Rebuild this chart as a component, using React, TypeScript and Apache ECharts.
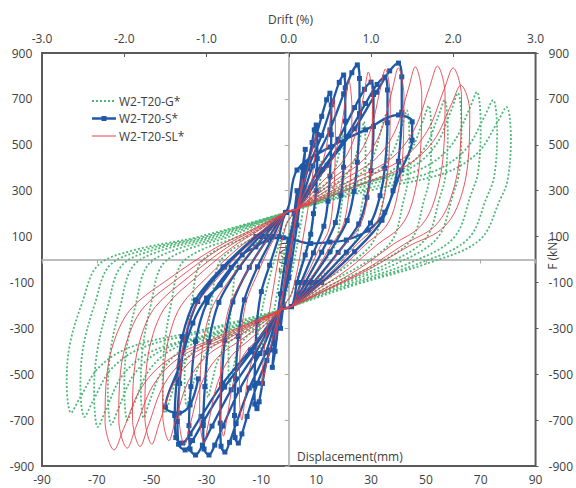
import React, { useEffect, useRef } from "react";
import * as echarts from "echarts";

// Axis ranges / ticks
const dispAxis = { min: -90, max: 90, step: 20 };
const driftAxis = { min: -3, max: 3, step: 1 };
const forceAxis = { min: -900, max: 900, step: 200 };

const seriesNames = ["W2-T20-G*", "W2-T20-S*", "W2-T20-SL*"];

// W2-T20-G* : [displacement (mm), force (kN)], traced loop by loop
const greenCurve: number[][] = [
  [0, 0], [3, 220], [6, 300], [5, 200], [1, -60], [-3, -220], [-6, -300], [-5, -200], [-1, 60],
  [3, 220], [8, 330], [12, 430], [11, 300], [7, 80], [1, -150], [-3, -220], [-8, -330], [-12, -440], [-11, -300], [-7, -80], [-1, 150],
  [3, 220], [8, 286], [14, 336], [17, 402], [19, 501], [19.6, 550], [20, 440], [19.7, 286], [19, 215], [17.2, 72], [12.6, -15], [6, -110], [1, -205],
  [-3, -220], [-8.8, -286], [-15.4, -336], [-18.7, -402], [-20.7, -501], [-21.6, -550], [-22, -440], [-21.7, -303], [-20.5, -154], [-18.9, -22], [-15.4, 40], [-8.8, 100], [-1, 205],
  [3, 220], [11.2, 296], [19.6, 353], [23.8, 429], [26.3, 543], [27.4, 600], [28, 480], [27.6, 312], [26.6, 234], [24.1, 78], [17.6, -15], [8.4, -110], [1, -205],
  [-3, -220], [-12, -296], [-21, -353], [-25.5, -429], [-28.2, -543], [-29.4, -600], [-30, -480], [-29.6, -330], [-27.9, -168], [-25.8, -24], [-21, 40], [-12, 100], [-1, 205],
  [3, 220], [14.4, 302], [25.2, 364], [30.6, 446], [33.8, 569], [35.3, 630], [36, 504], [35.5, 328], [34.2, 246], [31, 82], [22.7, -15], [10.8, -110], [1, -205],
  [-3, -220], [-15.2, -304], [-26.6, -367], [-32.3, -451], [-35.7, -577], [-37.2, -640], [-38, -512], [-37.4, -352], [-35.3, -179], [-32.7, -26], [-26.6, 40], [-15.2, 100], [-1, 205],
  [3, 220], [17.6, 306], [30.8, 371], [37.4, 457], [41.4, 586], [43.1, 650], [44, 520], [43.3, 338], [41.8, 254], [37.8, 85], [27.7, -15], [13.2, -110], [1, -205],
  [-3, -220], [-18.4, -310], [-32.2, -378], [-39.1, -468], [-43.2, -603], [-45.1, -670], [-46, -536], [-45.3, -369], [-42.8, -188], [-39.6, -27], [-32.2, 40], [-18.4, 100], [-1, 205],
  [3, 220], [20.8, 310], [36.4, 378], [44.2, 468], [48.9, 603], [51, 670], [52, 536], [51.2, 348], [49.4, 261], [44.7, 87], [32.8, -15], [15.6, -110], [1, -205],
  [-3, -220], [-21.6, -314], [-37.8, -385], [-45.9, -479], [-50.8, -620], [-52.9, -690], [-54, -552], [-53.2, -380], [-50.2, -193], [-46.4, -28], [-37.8, 40], [-21.6, 100], [-1, 205],
  [3, 220], [23.2, 315], [40.6, 386], [49.3, 481], [54.5, 624], [56.8, 695], [58, 556], [57.1, 361], [55.1, 271], [49.9, 90], [36.5, -15], [17.4, -110], [1, -205],
  [-3, -220], [-24, -316], [-42, -388], [-51, -484], [-56.4, -628], [-58.8, -700], [-60, -560], [-59.1, -385], [-55.8, -196], [-51.6, -28], [-42, 40], [-24, 100], [-1, 205],
  [3, 220], [25.2, 321], [44.1, 397], [53.6, 498], [59.2, 649], [61.7, 725], [63, 580], [62.1, 377], [59.9, 283], [54.2, 94], [39.7, -15], [18.9, -110], [1, -205],
  [-3, -220], [-26.4, -320], [-46.2, -395], [-56.1, -495], [-62, -645], [-64.7, -720], [-66, -576], [-65, -396], [-61.4, -202], [-56.8, -29], [-46.2, 40], [-26.4, 100], [-1, 205],
  [3, 220], [28, 322], [49, 399], [59.5, 501], [65.8, 654], [68.6, 730], [70, 584], [69, 380], [66.5, 285], [60.2, 95], [44.1, -15], [21, -110], [1, -205],
  [-3, -220], [-28.4, -322], [-49.7, -399], [-60.4, -501], [-66.7, -654], [-69.6, -730], [-71, -584], [-69.9, -402], [-66, -204], [-61.1, -29], [-49.7, 40], [-28.4, 100], [-1, 205],
  [3, 220], [30.4, 315], [53.2, 386], [64.6, 481], [71.4, 624], [74.5, 695], [76, 556], [74.9, 361], [72.2, 271], [65.4, 90], [47.9, -15], [22.8, -110], [1, -205],
  [-3, -220], [-30.4, -313], [-53.2, -383], [-64.6, -476], [-71.4, -616], [-74.5, -686], [-76, -549], [-74.9, -377], [-70.7, -192], [-65.4, -27], [-53.2, 40], [-30.4, 100], [-1, 205],
  [3, 220], [32.4, 309], [56.7, 376], [68.9, 465], [76.1, 598], [79.4, 665], [81, 532], [79.8, 346], [77, 259], [69.7, 86], [51, -15], [24.3, -110], [1, -205],
  [-3, -220], [-32.4, -310], [-56.7, -377], [-68.9, -466], [-76.1, -601], [-79.4, -668], [-81, -534], [-79.8, -367], [-75.3, -187], [-69.7, -27], [-56.7, 40], [-32.4, 100], [-1, 205],
];

// W2-T20-S*
const blueCurve: number[][] = [
  [0, 0], [2, 150], [3, 300], [2, 200], [0, 20], [-2, -150], [-3, -300], [-2, -200], [0, -20],
  [3, 220], [5, 400], [6, 480], [5, 350], [3, 150], [0, -80], [-3, -220], [-5, -400], [-6, -470], [-5, -340], [-3, -150], [0, 80],
  [3, 220], [5, 330], [7, 420], [8.5, 510], [9.3, 565], [10, 586], [10.4, 545], [10.4, 440], [10, 300], [9, 200], [8, 110], [6, 20], [3, -100], [1, -205],
  [-3, -220], [-5, -330], [-8, -440], [-9.6, -540], [-10.8, -620], [-11.6, -650], [-12.4, -630], [-12.5, -550], [-12.2, -420], [-11.6, -273], [-10, -140], [-7, -25], [-3.6, 100], [-1, 205],
  [3, 220], [5.3, 372], [9, 498], [12, 624], [13.8, 696], [15, 725], [15.5, 674], [15.5, 544], [15, 363], [14.3, 254], [12.8, 145], [9, 29], [4.5, -100], [1, -205],
  [-3, -220], [-6.7, -394], [-11.4, -539], [-15.2, -684], [-17.1, -760], [-18.4, -800], [-19.6, -776], [-19.8, -680], [-19.4, -520], [-18.4, -336], [-16.2, -176], [-11.4, -32], [-5.7, 100], [-1, 205],
  [3, 220], [7, 395], [12, 541], [16, 687], [18.4, 772], [20, 804], [20.6, 748], [20.6, 603], [20, 402], [19, 281], [17, 161], [12, 32], [6, -100], [1, -205],
  [-3, -220], [-8.4, -406], [-14.4, -560], [-19.2, -715], [-21.6, -797], [-23.3, -839], [-24.7, -814], [-25, -713], [-24.5, -545], [-23.3, -352], [-20.4, -185], [-14.4, -34], [-7.2, 100], [-1, 205],
  [3, 220], [8.8, 408], [15, 565], [20, 722], [23, 814], [25, 848], [25.8, 789], [25.8, 636], [25, 424], [23.8, 297], [21.3, 170], [15, 34], [7.5, -100], [1, -205],
  [-3, -220], [-10.5, -410], [-18, -568], [-24, -726], [-27, -809], [-29.1, -852], [-30.9, -826], [-31.2, -724], [-30.6, -554], [-29.1, -358], [-25.5, -187], [-18, -34], [-9, 100], [-1, 205],
  [3, 220], [10.5, 386], [18, 524], [24, 662], [27.6, 742], [30, 773], [30.9, 719], [30.9, 580], [30, 387], [28.5, 271], [25.5, 155], [18, 31], [9, -100], [1, -205],
  [-3, -220], [-12.3, -410], [-21, -568], [-28, -726], [-31.5, -809], [-34, -852], [-36, -826], [-36.4, -724], [-35.7, -554], [-34, -358], [-29.8, -187], [-21, -34], [-10.5, 100], [-1, 205],
  [3, 220], [12.3, 393], [21, 536], [28, 680], [32.2, 763], [35, 795], [36, 739], [36, 596], [35, 398], [33.3, 278], [29.8, 159], [21, 32], [10.5, -100], [1, -205],
  [-3, -220], [-13.7, -403], [-23.4, -556], [-31.2, -708], [-35.1, -789], [-37.8, -830], [-40.2, -805], [-40.6, -706], [-39.8, -540], [-37.8, -349], [-33.2, -183], [-23.4, -33], [-11.7, 100], [-1, 205],
  [3, 220], [14, 411], [24, 570], [32, 729], [36.8, 822], [40, 856], [41.2, 796], [41.2, 642], [40, 428], [38, 300], [34, 171], [24, 34], [12, -100], [1, -205],
  [-3, -220], [-14, -394], [-24, -539], [-32, -684], [-36, -760], [-38.8, -800], [-41.2, -776], [-41.6, -680], [-40.8, -520], [-38.8, -336], [-34, -176], [-24, -32], [-12, 100], [-1, 205],
  [3, 390], [15, 490], [28, 565], [40, 630], [45, 600], [45, 520], [41, 390], [35, 206], [29, 128], [21, 85], [15, 76], [8, 70],
  [-2, 95], [-8, 85], [-12, 55], [-17, 20], [-25, -111], [-30, -168], [-35, -277], [-40, -468], [-45, -643], [-40, -669], [-36, -634], [-33, -520],
];

// W2-T20-SL*
const redCurve: number[][] = [
  [0, 0], [3, 220], [5, 350], [4, 250], [0, 20], [-3, -220], [-5, -350], [-4, -250], [0, -20],
  [3, 220], [7, 400], [10, 550], [9, 400], [6, 150], [1, -150], [-3, -220], [-7, -400], [-10, -560], [-9, -400], [-6, -150], [-1, 150],
  [3, 220], [6.8, 316], [11.1, 388], [13.6, 484], [15.3, 628], [16.2, 700], [17, 595], [16.8, 385], [15.8, 210], [14.3, 119], [11.4, 56], [7.7, -40], [3.7, -130], [1, -205],
  [-3, -220], [-7.2, -316], [-11.7, -388], [-14.4, -484], [-16.2, -628], [-17.1, -700], [-18, -595], [-17.8, -420], [-16.9, -280], [-15.3, -175], [-11.7, -70], [-7.2, 50], [-3.6, 130], [-1, 205],
  [3, 220], [9.2, 332], [15, 416], [18.4, 528], [20.7, 696], [21.9, 780], [23, 663], [22.8, 429], [21.4, 234], [19.3, 133], [15.4, 62], [10.4, -40], [5.1, -130], [1, -205],
  [-3, -220], [-10, -330], [-16.3, -413], [-20, -523], [-22.5, -688], [-23.8, -770], [-25, -655], [-24.8, -462], [-23.5, -308], [-21.3, -193], [-16.3, -77], [-10, 50], [-5, 130], [-1, 205],
  [3, 220], [12.2, 339], [19.8, 429], [24.4, 548], [27.5, 727], [29, 817], [30.5, 694], [30.2, 449], [28.4, 245], [25.6, 139], [20.4, 65], [13.7, -40], [6.7, -130], [1, -205],
  [-3, -220], [-13, -336], [-21.1, -423], [-26, -539], [-29.3, -713], [-30.9, -800], [-32.5, -680], [-32.2, -480], [-30.6, -320], [-27.6, -200], [-21.1, -80], [-13, 50], [-6.5, 130], [-1, 205],
  [3, 220], [14.8, 342], [24, 434], [29.6, 556], [33.3, 739], [35.2, 830], [37, 706], [36.6, 457], [34.4, 249], [31.1, 141], [24.8, 66], [16.7, -40], [8.1, -130], [1, -205],
  [-3, -220], [-16, -338], [-26, -427], [-32, -545], [-36, -722], [-38, -810], [-40, -689], [-39.6, -486], [-37.6, -324], [-34, -203], [-26, -81], [-16, 50], [-8, 130], [-1, 205],
  [3, 220], [16.8, 343], [27.3, 435], [33.6, 558], [37.8, 743], [39.9, 835], [42, 710], [41.6, 459], [39.1, 251], [35.3, 142], [28.1, 67], [18.9, -40], [9.2, -130], [1, -205],
  [-3, -220], [-18.4, -334], [-29.9, -420], [-36.8, -534], [-41.4, -705], [-43.7, -790], [-46, -672], [-45.5, -474], [-43.2, -316], [-39.1, -198], [-29.9, -79], [-18.4, 50], [-9.2, 130], [-1, 205],
  [3, 220], [19.4, 344], [31.5, 437], [38.8, 561], [43.7, 747], [46.1, 840], [48.5, 714], [48, 462], [45.1, 252], [40.7, 143], [32.5, 67], [21.8, -40], [10.7, -130], [1, -205],
  [-3, -220], [-21, -337], [-34.1, -425], [-42, -542], [-47.3, -717], [-49.9, -805], [-52.5, -684], [-52, -483], [-49.4, -322], [-44.6, -201], [-34.1, -81], [-21, 50], [-10.5, 130], [-1, 205],
  [3, 220], [22.8, 345], [37.1, 438], [45.6, 563], [51.3, 750], [54.2, 843], [57, 717], [56.4, 464], [53, 253], [47.9, 143], [38.2, 67], [25.7, -40], [12.5, -130], [1, -205],
  [-3, -220], [-22.8, -339], [-37.1, -428], [-45.6, -547], [-51.3, -726], [-54.2, -815], [-57, -693], [-56.4, -489], [-53.6, -326], [-48.5, -204], [-37.1, -82], [-22.8, 50], [-11.4, 130], [-1, 205],
  [3, 220], [25.2, 343], [41, 435], [50.4, 558], [56.7, 743], [59.9, 835], [63, 710], [62.4, 459], [58.6, 251], [52.9, 142], [42.2, 67], [28.4, -40], [13.9, -130], [1, -205],
  [-3, -220], [-24.8, -340], [-40.3, -431], [-49.6, -551], [-55.8, -732], [-58.9, -822], [-62, -699], [-61.4, -493], [-58.3, -329], [-52.7, -206], [-40.3, -82], [-24.8, 50], [-12.4, 130], [-1, 205],
  [3, 220], [26.4, 328], [42.9, 409], [52.8, 517], [59.4, 679], [62.7, 760], [66, 646], [65.3, 418], [61.4, 228], [55.4, 129], [44.2, 61], [29.7, -40], [14.5, -130], [1, -205],
  [-3, -220], [-26.8, -342], [-43.6, -434], [-53.6, -556], [-60.3, -739], [-63.7, -830], [-67, -706], [-66.3, -498], [-63, -332], [-57, -208], [-43.6, -83], [-26.8, 50], [-13.4, 130], [-1, 205], [3, 220],
];

const GREEN = "#4fb878";
const BLUE = "#1f58a6";
const RED = "#e5434c";
const TEXT = "#404040";
const FONT = "'Open Sans', 'Noto Sans', sans-serif";

export default function App() {
  const ref = useRef<HTMLDivElement>(null);
  useEffect(() => {
    if (!ref.current) return;
    const chart = echarts.init(ref.current, null, { renderer: "svg" });
    const labelStyle = { color: TEXT, fontSize: 12, fontFamily: FONT };
    chart.setOption({
      animation: false,
      backgroundColor: "#ffffff",
      grid: {
        left: 42, right: 37, top: 53, bottom: 22,
        show: true, borderColor: "#5a5a5a", borderWidth: 2, backgroundColor: "transparent",
      },
      xAxis: [
        {
          type: "value", position: "bottom", min: dispAxis.min, max: dispAxis.max, interval: dispAxis.step,
          axisLine: { show: false, onZero: false }, axisTick: { show: false }, splitLine: { show: false },
          axisLabel: { ...labelStyle, margin: 7 },
        },
        {
          type: "value", position: "top", min: driftAxis.min, max: driftAxis.max, interval: driftAxis.step,
          axisLine: { show: false, onZero: false },
          axisTick: { show: true, inside: true, length: 4, lineStyle: { color: "#5a5a5a" } },
          splitLine: { show: false },
          axisLabel: { ...labelStyle, margin: 9, formatter: (v: number) => v.toFixed(1) },
        },
        {
          type: "value", min: dispAxis.min, max: dispAxis.max, interval: dispAxis.step,
          axisLine: { show: true, onZero: true, onZeroAxisIndex: 0, lineStyle: { color: "#a8a8a8", width: 1.5 } },
          axisTick: { show: true, inside: true, length: 4, lineStyle: { color: "#a8a8a8" } },
          axisLabel: { show: false }, splitLine: { show: false },
        },
      ],
      yAxis: [
        {
          type: "value", position: "left", min: forceAxis.min, max: forceAxis.max, interval: forceAxis.step,
          axisLine: { show: false, onZero: false }, axisTick: { show: false }, splitLine: { show: false },
          axisLabel: { ...labelStyle, margin: 20, align: "center" },
        },
        {
          type: "value", position: "right", min: forceAxis.min, max: forceAxis.max, interval: forceAxis.step,
          axisLine: { show: false, onZero: false },
          axisTick: { show: true, length: 3, lineStyle: { color: "#5a5a5a" } },
          splitLine: { show: false },
          axisLabel: { ...labelStyle, margin: 13, align: "left" },
        },
        {
          type: "value", min: forceAxis.min, max: forceAxis.max, interval: forceAxis.step,
          axisLine: { show: true, onZero: true, onZeroAxisIndex: 0, lineStyle: { color: "#a8a8a8", width: 1.5 } },
          axisTick: { show: true, inside: true, length: 4, lineStyle: { color: "#a8a8a8" } },
          axisLabel: { show: false }, splitLine: { show: false },
        },
      ],
      graphic: [
        { type: "text", x: 290.5, y: 19.5, style: { text: "Drift (%)", fill: TEXT, font: `12px ${FONT}`, align: "center", verticalAlign: "middle" } },
        { type: "text", x: 297, y: 456, z: 1, style: { text: "Displacement(mm)", fill: TEXT, font: `12px ${FONT}`, align: "left", verticalAlign: "middle" } },
        { type: "text", x: 552, y: 254, rotation: Math.PI / 2, style: { text: "F (kN)", fill: TEXT, font: `12px ${FONT}`, align: "center", verticalAlign: "middle" } },
        { type: "text", x: 283, y: 258, z: 0, rotation: Math.PI / 2, style: { text: "F (kN)", fill: TEXT, font: `12px ${FONT}`, align: "center", verticalAlign: "middle" } },
        { type: "line", shape: { x1: 92, y1: 101, x2: 116, y2: 101 }, style: { stroke: GREEN, lineWidth: 1.8, lineDash: [2, 2] } },
        { type: "line", shape: { x1: 92, y1: 118.5, x2: 116, y2: 118.5 }, style: { stroke: BLUE, lineWidth: 2.5 } },
        { type: "rect", shape: { x: 101.5, y: 116, width: 5, height: 5 }, style: { fill: BLUE } },
        { type: "line", shape: { x1: 92, y1: 136, x2: 116, y2: 136 }, style: { stroke: RED, lineWidth: 1 } },
        { type: "text", x: 119, y: 101, style: { text: seriesNames[0], fill: TEXT, font: `12px ${FONT}`, align: "left", verticalAlign: "middle" } },
        { type: "text", x: 119, y: 118.5, style: { text: seriesNames[1], fill: TEXT, font: `12px ${FONT}`, align: "left", verticalAlign: "middle" } },
        { type: "text", x: 119, y: 136, style: { text: seriesNames[2], fill: TEXT, font: `12px ${FONT}`, align: "left", verticalAlign: "middle" } },
      ],
      series: [
        {
          name: seriesNames[0], type: "line", xAxisIndex: 0, yAxisIndex: 0, data: greenCurve,
          symbol: "none", smooth: 0.35, z: 3,
          lineStyle: { color: GREEN, width: 1.8, type: [2, 2] },
        },
        {
          name: seriesNames[1], type: "line", xAxisIndex: 0, yAxisIndex: 0, data: blueCurve,
          symbol: "rect", symbolSize: 5, showSymbol: true, smooth: 0.35, z: 4,
          itemStyle: { color: BLUE }, lineStyle: { color: BLUE, width: 2.3 },
        },
        {
          name: seriesNames[2], type: "line", xAxisIndex: 0, yAxisIndex: 0, data: redCurve,
          symbol: "none", smooth: 0.35, z: 5,
          lineStyle: { color: RED, width: 0.9 },
        },
      ],
    });
    return () => chart.dispose();
  }, []);
  return (
    <div
      ref={ref}
      style={{ position: "fixed", left: 0, top: 0, width: 576, height: 488, background: "#fff" }}
    />
  );
}
